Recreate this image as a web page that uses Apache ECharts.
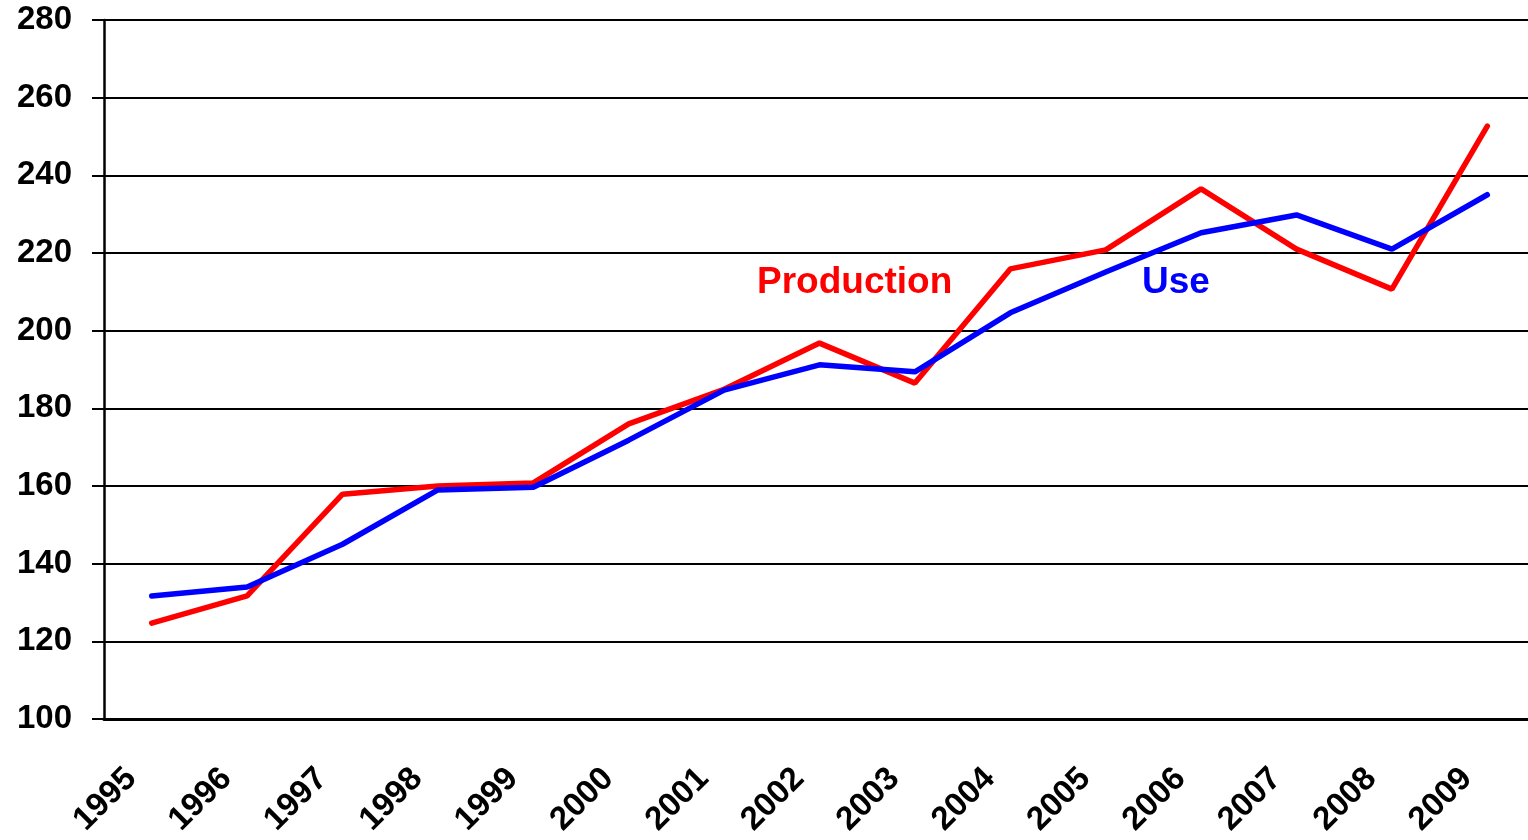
<!DOCTYPE html>
<html>
<head>
<meta charset="utf-8">
<script src="https://cdn.jsdelivr.net/npm/echarts@6/dist/echarts.min.js"></script>
<style>
  html, body { margin: 0; padding: 0; background: #fff; }
  #chartLine { width: 1528px; height: 840px; }
</style>
</head>
<body>
<div id="chartLine"></div>
<script>
// categories and values
const years = ['1995', '1996', '1997', '1998', '1999', '2000', '2001', '2002',
  '2003', '2004', '2005', '2006', '2007', '2008', '2009']
const production = [124.7, 131.7, 157.9, 160, 160.8, 176, 184.9, 196.8,
  186.5, 215.9, 220.8, 236.5, 221, 210.7, 252.7]
const use = [131.7, 134, 145, 159, 159.7, 171.8, 184.7, 191.2,
  189.4, 204.6, 215.1, 225.2, 229.8, 221, 235]

const fontFamily = '"Liberation Sans", Arial, sans-serif'

const chartLine = echarts.init(document.getElementById('chartLine'))
const option = {
  animation: false,
  grid: {
    left: 104,
    top: 20,
    width: 1431,
    bottom: 121,
    containLabel: false,
    outerBoundsMode: 'none'
  },
  xAxis: {
    type: 'category',
    boundaryGap: true,
    data: years,
    axisLine: { lineStyle: { color: '#000', width: 3 } },
    axisTick: { length: 12, lineStyle: { color: '#000', width: 2 } },
    axisLabel: {
      interval: 0,
      rotate: 45,
      margin: 34,
      padding: [0, 29, 0, 0],
      color: '#000',
      fontFamily: fontFamily,
      fontWeight: 'bold',
      fontSize: 33
    },
    splitLine: { show: false }
  },
  yAxis: {
    type: 'value',
    min: 100,
    max: 280,
    interval: 20,
    axisLine: { show: true, lineStyle: { color: '#000', width: 2.5 } },
    axisTick: { show: true, length: 12, lineStyle: { color: '#000', width: 2 } },
    axisLabel: {
      margin: 32,
      color: '#000',
      fontFamily: fontFamily,
      fontWeight: 'bold',
      fontSize: 33
    },
    splitLine: { show: true, lineStyle: { color: '#000', width: 1.8 } }
  },
  graphic: [
    {
      type: 'text',
      left: 757,
      top: 264,
      style: {
        text: 'Production',
        fill: '#ff0000',
        font: 'bold 37px ' + fontFamily
      }
    },
    {
      type: 'text',
      left: 1142,
      top: 264,
      style: {
        text: 'Use',
        fill: '#0000ff',
        font: 'bold 37px ' + fontFamily
      }
    }
  ],
  series: [
    {
      name: 'Production',
      type: 'line',
      symbol: 'none',
      data: production,
      lineStyle: { color: '#ff0000', width: 5.5, cap: 'round' },
      z: 3
    },
    {
      name: 'Use',
      type: 'line',
      symbol: 'none',
      data: use,
      lineStyle: { color: '#0000ff', width: 5.5, cap: 'round' },
      z: 4
    }
  ]
}
chartLine.setOption(option)
</script>
</body>
</html>
